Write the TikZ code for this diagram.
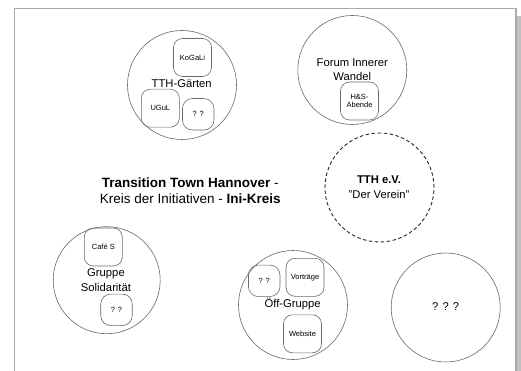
\documentclass[tikz,border=0pt]{standalone}
\usepackage{fontspec}
\setmainfont{Liberation Sans}
\definecolor{lin}{RGB}{105,105,105}
\definecolor{frm}{RGB}{170,170,170}
\definecolor{shd}{RGB}{192,192,192}
\begin{document}
\begin{tikzpicture}[x=1pt,y=-1pt,
  grp/.style={circle, draw=lin, line width=0.6pt, inner sep=0pt, minimum size=#1},
  grp/.default=109pt,
  sub/.style={rectangle, rounded corners=9pt, draw=lin, line width=0.6pt, inner sep=0pt,
    minimum width=38pt, minimum height=38pt, align=center,
    font=\fontsize{7.5}{8.7}\selectfont},
  subq/.style={sub, rounded corners=10pt, minimum width=31.5pt, minimum height=31.5pt},
  lbl/.style={align=center, inner sep=0pt, font=\fontsize{11.25}{14.4}\selectfont},
  ttl/.style={align=center, inner sep=0pt, font=\fontsize{13.5}{16.4}\selectfont}]
\useasboundingbox (0,0) rectangle (521,371);
\fill[white] (0,0) rectangle (521,371);
% page frame and shadow
\fill[shd] (517,16) rectangle (521,371);
\draw[frm, line width=1.2pt] (14.6,371) -- (14.6,8.6) -- (516,8.6) -- (516,371);

% group circles
\node[grp] (gaerten) at (182,85) {};
\node[grp] (forum) at (352.3,70) {};
\node[grp, draw=black!85, line width=0.9pt, dash pattern=on 3.5pt off 2.5pt] (verein) at (379.5,187.5) {};
\node[grp=107pt] (soli) at (106.7,280.2) {};
\node[grp] (oeff) at (293,305) {};
\node[grp] (qqq) at (445.7,307.5) {};

% labels of groups
\node[lbl] (gaertenL) at (181.7,84) {TTH-Gärten};
\node[lbl] (forumL) at (352.3,69.5) {Forum Innerer\\Wandel};
\node[lbl] (vereinL) at (379,187) {\textbf{TTH e.V.}\\"Der Verein"};
\node[lbl] (soliL) at (106,280.2) {Gruppe\\Solidarität};
\node[lbl] (oeffL) at (292.7,304) {Öff-Gruppe};
\node[lbl] (qqqL) at (445.7,306.7) {? ? ?};

% title
\node[ttl] (title) at (190.3,190.5) {\textbf{Transition Town Hannover} -\\Kreis der Initiativen - \textbf{Ini-Kreis}};

% sub groups
\node[sub] (kogali) at (192.5,57.5) {KoGaLi};
\node[sub] (ugul) at (160.3,108.2) {UGuL};
\node[subq] (gq) at (198.2,114.3) {? ?};
\node[sub] (hs) at (359.5,101) {H\&S-\\Abende};
\node[sub] (cafe) at (103.3,247) {Café S};
\node[subq] (sq) at (116.5,309.8) {? ?};
\node[subq] (oq) at (264.2,280.8) {? ?};
\node[sub] (vortraege) at (305,277.3) {Vorträge};
\node[sub] (website) at (302.5,333.8) {Website};
\end{tikzpicture}
\end{document}
